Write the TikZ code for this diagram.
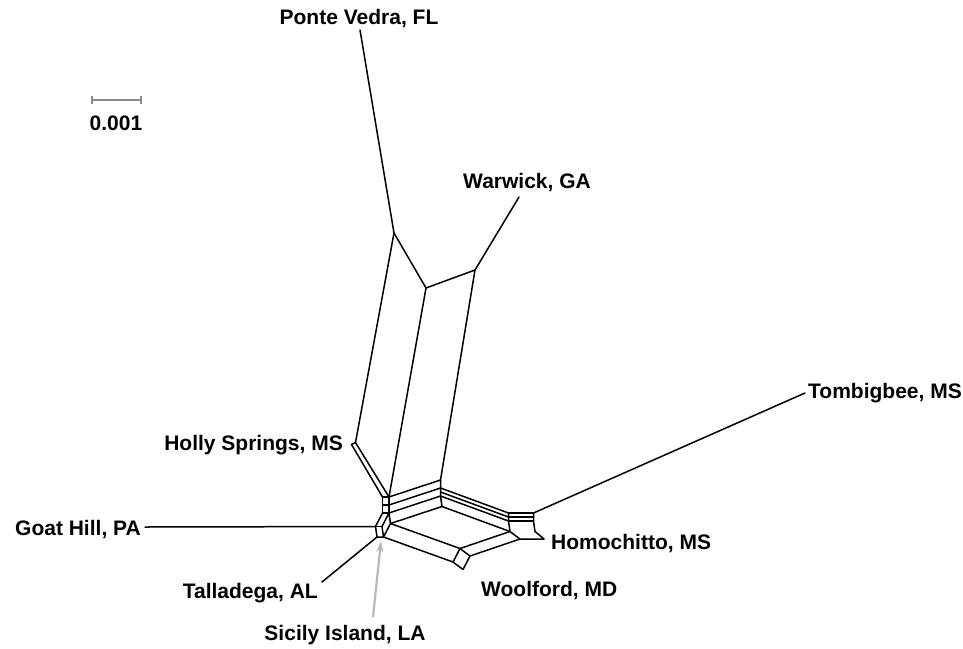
\documentclass[tikz,border=0pt]{standalone}
\usepackage{fontspec}
\setmainfont{Liberation Sans}
\usetikzlibrary{arrows.meta}
\begin{document}
\begin{tikzpicture}[x=1pt,y=-1pt,
  edge/.style={line width=1.5pt, line join=round, line cap=round},
  lab/.style={font=\fontsize{21}{25}\selectfont\bfseries, inner sep=0pt},
  scalebar/.style={line width=1.2pt, draw=black!45}]
\useasboundingbox (0,0) rectangle (963,648);
% network vertices
\coordinate (pv) at (360,30);
\coordinate (p1) at (394,233);
\coordinate (p2) at (426,288);
\coordinate (p3) at (475,270);
\coordinate (wa) at (519,197);
\coordinate (hsa) at (355.5,442.5);
\coordinate (hsb) at (351.5,444.5);
\coordinate (q0) at (382.5,497);
\coordinate (q1) at (389,497);
\coordinate (q2) at (382.5,505);
\coordinate (q3) at (389,505);
\coordinate (q4) at (382.5,513);
\coordinate (q5) at (389,513);
\coordinate (a1) at (375.5,526.5);
\coordinate (a7) at (382,526.5);
\coordinate (a4) at (390.5,523.5);
\coordinate (a5) at (383.5,537);
\coordinate (a6) at (377,537);
\coordinate (r0) at (440.5,480);
\coordinate (r1) at (440.5,488);
\coordinate (r1b) at (440.5,492);
\coordinate (r2) at (440.5,496);
\coordinate (r3) at (442,506.5);
\coordinate (l1) at (508.5,513);
\coordinate (l1b) at (508.5,517);
\coordinate (l2) at (508.5,521);
\coordinate (l3) at (510,531.5);
\coordinate (m1) at (533.5,513);
\coordinate (m1b) at (533.5,517);
\coordinate (m2) at (533.5,521);
\coordinate (m3) at (535,531.5);
\coordinate (b1) at (520,539);
\coordinate (b2) at (544,539);
\coordinate (w1) at (460,548.5);
\coordinate (w2) at (470,556);
\coordinate (w3) at (453,562);
\coordinate (w4) at (463,569.5);
\coordinate (tb) at (805,393);
\coordinate (gh) at (145,527);
\coordinate (ta) at (322,582);
\coordinate (sa) at (373,617);
\coordinate (sb) at (381,541);
% upper part
\draw[edge] (pv) -- (p1) -- (p2) -- (p3) -- (wa);
\draw[edge] (p1) -- (hsa);
\draw[edge] (p2) -- (q1);
\draw[edge] (p3) -- (r0);
% Holly Springs
\draw[edge] (hsa) -- (hsb);
\draw[edge] (hsa) -- (q1);
\draw[edge] (hsb) -- (q0);
% left hub box
\draw[edge] (q0) -- (q1);
\draw[edge] (q2) -- (q3);
\draw[edge] (q4) -- (q5);
\draw[edge] (q0) -- (q2) -- (q4);
\draw[edge] (q1) -- (q3) -- (q5);
% hexagon
\draw[edge] (q4) -- (a1) -- (a6) -- (a5) -- (a4) -- (q5) -- (a7) -- (a5);
\draw[edge] (a1) -- (a7);
% band to right column
\draw[edge] (q1) -- (r0);
\draw[edge] (q3) -- (r1);
\draw[edge] (q5) -- (r2);
\draw[edge] (a4) -- (r3);
\draw[edge] (r0) -- (r1) -- (r1b) -- (r2) -- (r3);
% band to Homochitto box
\draw[edge] (r1) -- (l1);
\draw[edge] (r1b) -- (l1b);
\draw[edge] (r2) -- (l2);
\draw[edge] (r3) -- (l3);
\draw[edge] (l1) -- (l1b) -- (l2) -- (l3) -- (b1) -- (b2) -- (m3) -- (m2) -- (m1b) -- (m1);
\draw[edge] (l1) -- (m1);
\draw[edge] (l1b) -- (m1b);
\draw[edge] (l2) -- (m2);
% Woolford box
\draw[edge] (a4) -- (w1);
\draw[edge] (a5) -- (w3);
\draw[edge] (w1) -- (w2) -- (w4) -- (w3) -- (w1);
\draw[edge] (w1) -- (l3);
\draw[edge] (w2) -- (b1);
% pendant edges
\draw[edge] (m1) -- (tb);
\draw[edge] (gh) -- (a1);
\draw[edge] (ta) -- (a6);
% Sicily Island arrow
\draw[line width=2.2pt, draw=black!28, -{Stealth[length=11pt,width=7pt]}] (sa) -- (sb);
% scale bar
\coordinate (sc1) at (92,100);
\coordinate (sc2) at (141,100);
\draw[scalebar] (sc1) -- (sc2);
\draw[scalebar] ([yshift=-4pt]sc1) -- ([yshift=4pt]sc1);
\draw[scalebar] ([yshift=-4pt]sc2) -- ([yshift=4pt]sc2);
\node[lab, anchor=base] (scl) at (116,130) {0.001};
% labels
\node[lab, anchor=base] (lpv) at (359,24) {Ponte Vedra, FL};
\node[lab, anchor=base] (lwa) at (527,188) {Warwick, GA};
\node[lab, anchor=base east] (lhs) at (343,450) {Holly Springs, MS};
\node[lab, anchor=base west] (ltb) at (808,398) {Tombigbee, MS};
\node[lab, anchor=base east] (lgh) at (141,535) {Goat Hill, PA};
\node[lab, anchor=base west] (lho) at (551,549) {Homochitto, MS};
\node[lab, anchor=base east] (lta) at (318,598) {Talladega, AL};
\node[lab, anchor=base west] (lwo) at (481,596) {Woolford, MD};
\node[lab, anchor=base] (lsi) at (345,640) {Sicily Island, LA};
\end{tikzpicture}
\end{document}
